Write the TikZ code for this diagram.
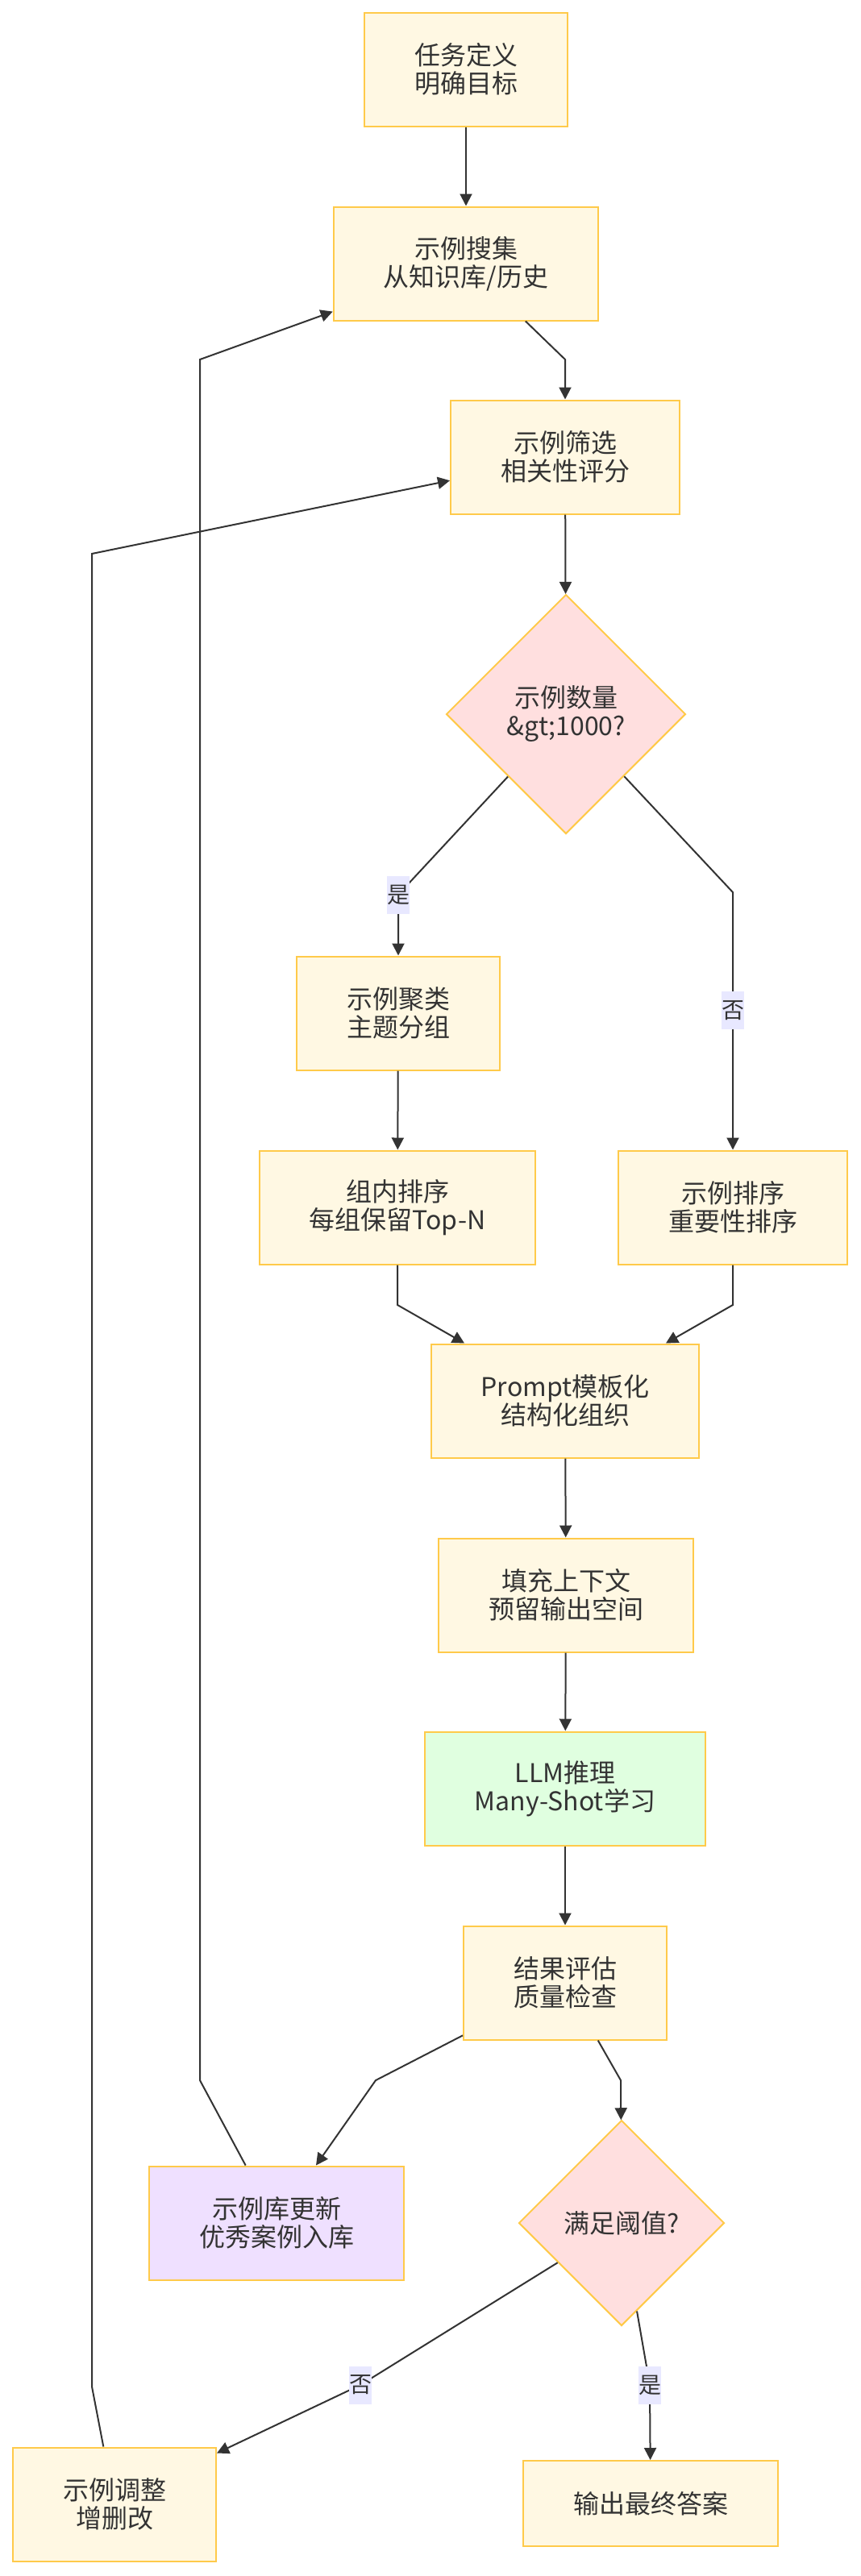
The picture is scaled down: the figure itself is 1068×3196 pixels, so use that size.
\documentclass[tikz,border=0pt]{standalone}
\usepackage{fontspec}
\setmainfont{Noto Sans CJK SC}
\usetikzlibrary{arrows.meta, shapes.geometric}
\definecolor{ink}{HTML}{333333}
\definecolor{boxfill}{HTML}{FFF8E3}
\definecolor{boxline}{HTML}{FFCA4A}
\definecolor{decfill}{HTML}{FFDFDF}
\definecolor{llmfill}{HTML}{E0FFE0}
\definecolor{libfill}{HTML}{EFE0FF}
\definecolor{labfill}{HTML}{E8E8FF}
\tikzset{
  proc/.style={rectangle, draw=boxline, fill=boxfill, line width=1pt, text=ink,
    align=center, inner xsep=31pt, inner ysep=0pt, minimum height=70.5pt,
    font=\fontsize{16pt}{17.5pt}\selectfont},
  decide/.style={diamond, draw=boxline, fill=decfill, line width=1pt, text=ink,
    align=center, inner sep=0pt, aspect=1,
    font=\fontsize{16pt}{17.5pt}\selectfont},
  elabel/.style={fill=labfill, text=ink, inner sep=0pt, minimum width=14pt,
    minimum height=23.5pt, font=\fontsize{14pt}{16pt}\selectfont},
}
\begin{document}
\begin{tikzpicture}[x=0.5pt, y=-0.5pt, ->, >={Triangle[width=7.5pt, length=7.5pt]},
    line width=1pt, draw=ink]
  \useasboundingbox (0,0) rectangle (1068,3196);
  % nodes
  \node[proc] (task) at (578, 86) {任务定义\\明确目标};
  \node[proc] (collect) at (578, 327) {示例搜集\\从知识库/历史};
  \node[proc] (filter) at (701, 567) {示例筛选\\相关性评分};
  \node[decide, minimum width=148.5pt, minimum height=148.5pt] (many) at (702, 886) {示例数量\\\&gt;1000?};
  \node[proc] (cluster) at (494, 1257) {示例聚类\\主题分组};
  \node[proc] (rankin) at (493, 1498) {组内排序\\每组保留Top-N};
  \node[proc] (rank) at (909, 1498) {示例排序\\重要性排序};
  \node[proc] (prompt) at (701, 1738) {Prompt模板化\\结构化组织};
  \node[proc] (fill) at (702, 1979) {填充上下文\\预留输出空间};
  \node[proc, fill=llmfill] (llm) at (701, 2219) {LLM推理\\Many-Shot学习};
  \node[proc] (eval) at (701, 2460) {结果评估\\质量检查};
  \node[proc, fill=libfill] (lib) at (343, 2758) {示例库更新\\优秀案例入库};
  \node[decide, minimum width=127.5pt, minimum height=127.5pt] (thresh) at (771, 2758) {满足阈值?};
  \node[proc] (adjust) at (142, 3107) {示例调整\\增删改};
  \node[proc, minimum height=53pt] (out) at (807, 3106) {输出最终答案};
  % bends
  \coordinate (c2) at (701, 446);
  \coordinate (c4) at (494, 1110);
  \coordinate (c5) at (909, 1107);
  \coordinate (c7) at (493, 1619);
  \coordinate (c8) at (909, 1619);
  \coordinate (c12) at (466, 2581);
  \coordinate (c13) at (770, 2581);
  \coordinate (c14a) at (248, 2581);
  \coordinate (c14b) at (248, 446);
  \coordinate (c15) at (447, 2959);
  \coordinate (c16) at (806, 2959);
  \coordinate (c17a) at (114, 2961);
  \coordinate (c17b) at (114, 687);
  % edges
  \draw (task) -- (collect);
  \draw (collect) -- (c2) -- (filter);
  \draw (filter) -- (many);
  \draw (many) -- (c4) node[elabel] {是} -- (cluster);
  \draw (many) -- (c5) -- (rank) node[elabel, pos=0.46] {否};
  \draw (cluster) -- (rankin);
  \draw (rankin) -- (c7) -- (prompt);
  \draw (rank) -- (c8) -- (prompt);
  \draw (prompt) -- (fill);
  \draw (fill) -- (llm);
  \draw (llm) -- (eval);
  \draw (eval) -- (c12) -- ([xshift=24.5pt]lib.north);
  \draw (eval) -- (c13) -- (thresh);
  \draw (lib) -- (c14a) -- (c14b) -- (collect);
  \draw (thresh) -- (c15) node[elabel] {否} -- ([yshift=-4pt]adjust.north east);
  \draw (thresh) -- (c16) node[elabel] {是} -- (out);
  \draw (adjust) -- (c17a) -- (c17b) -- (filter);
\end{tikzpicture}
\end{document}
